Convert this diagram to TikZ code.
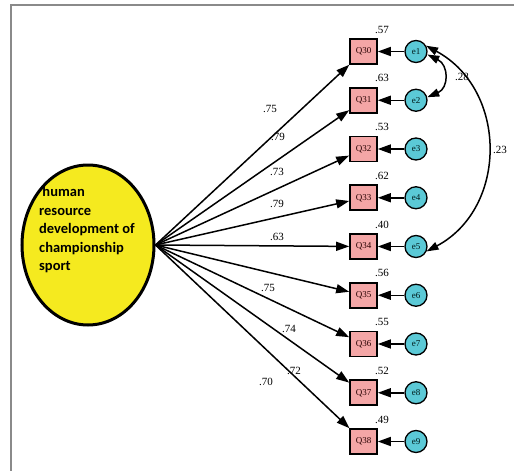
\documentclass[tikz,border=0pt]{standalone}
\usepackage{fontspec}
\setmainfont{Liberation Serif}
\newfontfamily\carl{Carlito}
\usetikzlibrary{shapes.geometric,arrows.meta}
\definecolor{lvyellow}{HTML}{F5EA1F}
\definecolor{boxpink}{HTML}{F4A6A6}
\definecolor{errcyan}{HTML}{5BC9D6}
\definecolor{framegray}{HTML}{8A8A8A}
\tikzset{
  obs/.style={draw=black,line width=1.6pt,fill=boxpink,minimum width=27pt,minimum height=25pt,inner sep=0pt,font=\fontsize{9}{9}\selectfont,text=black!85!red},
  err/.style={circle,draw=black,line width=1.3pt,fill=errcyan,minimum size=22pt,inner sep=0pt,font=\fontsize{9}{9}\selectfont,text=black!80!teal},
  arr/.style={line width=1.5pt,-{Triangle[length=13pt,width=9pt]}},
  cov/.style={line width=1.5pt,{Triangle[length=12pt,width=8pt]}-{Triangle[length=12pt,width=8pt]}},
  num/.style={font=\fontsize{11}{11}\selectfont,inner sep=0pt},
}
\begin{document}
\begin{tikzpicture}[x=1pt,y=-1pt]
\useasboundingbox (0,0) rectangle (514,471);
\draw[framegray,line width=1.5pt] (11,471) -- (11,5) -- (514,5);
\node[ellipse,draw=black,line width=3pt,fill=lvyellow,minimum width=132pt,minimum height=160pt] (L) at (88,245) {};
\node[font=\carl\bfseries\fontsize{14.5}{18.5}\selectfont,align=left,anchor=west,inner sep=0pt] (Ltext) at (39,230) {\ human\\resource\\development of\\championship\\sport};
\foreach \i/\q/\r/\lx/\ly/\lv [count=\k from 0] in {1/30/.57/270/109/.75, 2/31/.63/278/137/.79, 3/32/.53/277/172/.73, 4/33/.62/277/204/.79, 5/34/.40/277/237/.63, 6/35/.56/268/288/.75, 7/36/.55/289/329/.74, 8/37/.52/294/371/.72, 9/38/.49/266/382/.70}{
  \pgfmathsetmacro\yy{51.5+48.75*\k}
  \node[obs] (Q\q) at (363.5,\yy) {Q\q};
  \node[err] (e\i) at (416,\yy) {e\i};
  \node[num] (r\i) at (382,\yy-22) {\r};
  \draw[arr] (e\i) -- (Q\q);
  \draw[arr] (L.east) -- (Q\q);
  \node[num] (l\i) at (\lx,\ly) {\lv};
}
\draw[cov] (e1.-15) .. controls (449,65) and (449,88) .. (e2.15);
\draw[cov] (e1.30) .. controls (508,90) and (508,208) .. (e5.-25);
\node[num] (c12) at (462,77) {.28};
\node[num] (c15) at (500,150) {.23};
\end{tikzpicture}
\end{document}
